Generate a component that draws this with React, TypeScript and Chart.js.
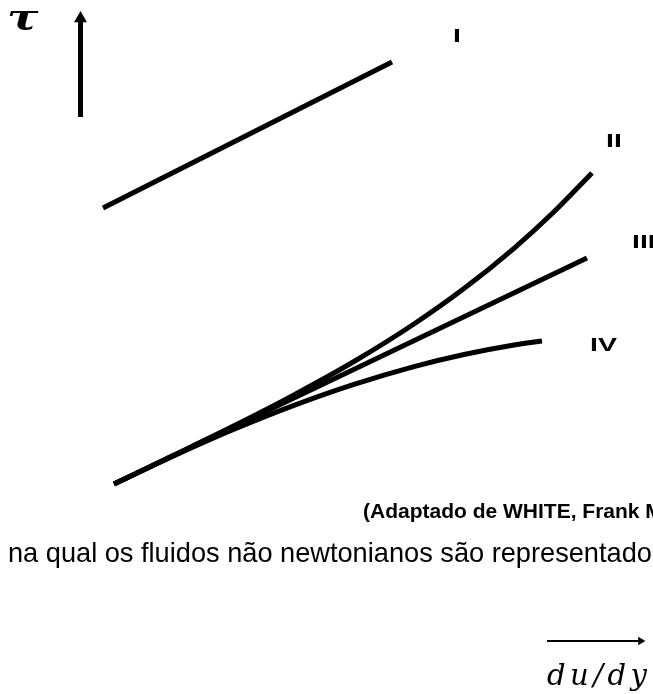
import React, { useEffect, useRef } from "react";
import { Chart, registerables } from "chart.js";

Chart.register(...registerables);

// Curve names (rheological behaviours)
const curveNames = ["I", "II", "III", "IV"];

// Shear rate du/dy (x) and shear stress τ (y), arbitrary units
const rateI = [-1.1, 27.8];
const stressI = [27.6, 42.2];

const rateII = [0, 6, 12, 18, 24, 30, 35, 40, 44, 47.8];
const stressII = [0, 2.89, 5.82, 8.91, 12.25, 16.0, 19.54, 23.57, 27.22, 31.1];

const rateIII = [0, 47.3];
const stressIII = [0, 22.6];

const rateIV = [0, 6, 12, 18, 24, 30, 35, 40, 42.8];
const stressIV = [0, 2.82, 5.47, 7.86, 9.96, 11.74, 12.95, 13.9, 14.3];

// Axis indicator arrows
const tauArrowRate = [-3.35, -3.35];
const tauArrowStress = [36.7, 46.55];
const rateArrowRate = [43.3, 52.66];
const rateArrowStress = [-15.7, -15.7];

// Texts
const tauLabel = "τ";
const rateLabel = "du/dy";
const sourceText = "(Adaptado de WHITE, Frank M. Mecânica dos Fluidos)";
const bodyText = "na qual os fluidos não newtonianos são representados";

const toPts = (xs: number[], ys: number[]) => xs.map((x, i) => ({ x, y: ys[i] }));

const textPlugin = {
  id: "figureText",
  afterDatasetsDraw(chart: any) {
    const ctx: CanvasRenderingContext2D = chart.ctx;
    const draw = (
      txt: string,
      x: number,
      y: number,
      font: string,
      sx = 1,
      ls = "0px"
    ) => {
      ctx.save();
      ctx.fillStyle = "#000";
      ctx.textBaseline = "alphabetic";
      ctx.textAlign = "left";
      ctx.font = font;
      (ctx as any).letterSpacing = ls;
      ctx.translate(x, y);
      ctx.scale(sx, 1);
      ctx.fillText(txt, 0, 0);
      ctx.restore();
    };
    const labelFont = "bold 19px 'Liberation Sans', Arial, sans-serif";
    const labelPos: [number, number][] = [
      [453, 42],
      [606, 147],
      [632, 248],
      [590, 351],
    ];
    curveNames.forEach((n, i) => draw(n, labelPos[i][0], labelPos[i][1], labelFont, 1.5));

    draw(tauLabel, 7, 29, "italic bold 36px 'DejaVu Serif', serif", 1.3);
    draw(rateLabel, 547, 685, "italic 29px 'DejaVu Serif', serif", 1, "4.5px");
    draw(sourceText, 363, 518, "bold 21px 'Liberation Sans', Arial, sans-serif");
    draw(bodyText, 8, 562, "27.2px 'Liberation Sans', Arial, sans-serif");
  },
};

export default function App() {
  const canvasRef = useRef<HTMLCanvasElement | null>(null);

  useEffect(() => {
    const canvas = canvasRef.current;
    if (!canvas) return;
    const line = (data: { x: number; y: number }[], width: number, extra: any = {}) => ({
      data,
      showLine: true,
      borderColor: "#000",
      backgroundColor: "#000",
      borderWidth: width,
      pointRadius: 0,
      fill: false,
      ...extra,
    });
    const chart = new Chart(canvas, {
      type: "scatter",
      data: {
        datasets: [
          line(toPts(rateI, stressI), 5),
          line(toPts(rateII, stressII), 5, { cubicInterpolationMode: "monotone" }),
          line(toPts(rateIII, stressIII), 5),
          line(toPts(rateIV, stressIV), 5, { cubicInterpolationMode: "monotone" }),
          line(toPts(tauArrowRate, tauArrowStress), 5, {
            pointRadius: [0, 7.5],
            pointStyle: "triangle",
            rotation: 0,
            borderWidth: 5,
            pointBorderWidth: 0,
          }),
          line(toPts(rateArrowRate, rateArrowStress), 2, {
            pointRadius: [0, 4.8],
            pointStyle: "triangle",
            rotation: 90,
            pointBorderWidth: 0,
          }),
        ],
      },
      options: {
        animation: false,
        responsive: false,
        maintainAspectRatio: false,
        layout: { padding: 0, autoPadding: false },
        plugins: {
          legend: { display: false },
          tooltip: { enabled: false },
          title: { display: false },
        },
        events: [],
        scales: {
          x: { type: "linear", min: -11.4, max: 53.9, display: false },
          y: { type: "linear", min: -21.0, max: 48.4, display: false },
        },
      },
      plugins: [textPlugin],
    });
    return () => chart.destroy();
  }, []);

  return (
    <div style={{ position: "fixed", left: 0, top: 0, width: 653, height: 694, background: "#fff" }}>
      <canvas ref={canvasRef} width={653} height={694} style={{ display: "block" }} />
    </div>
  );
}
